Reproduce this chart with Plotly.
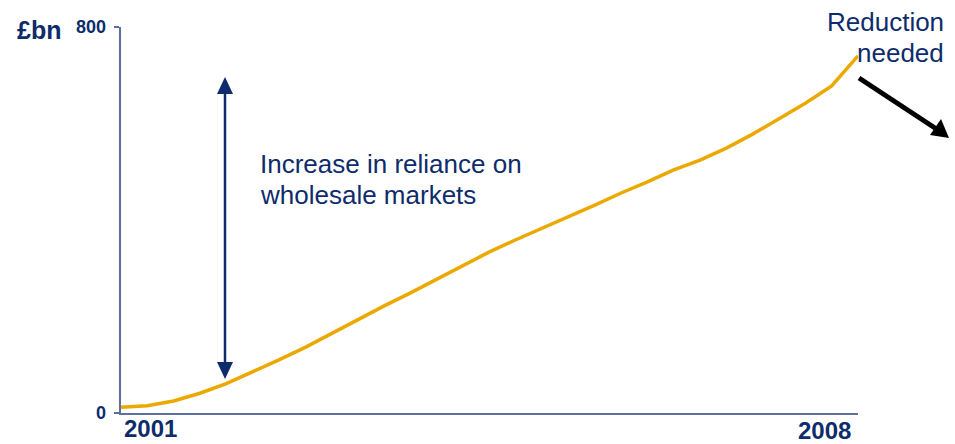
import plotly.graph_objects as go

# Quarterly balance, £bn, 2001 Q1 .. 2008 Q1
years = [2001 + q / 4 for q in range(29)]
funding_gap = [12, 15, 25, 41, 61, 85, 110, 136, 165, 195, 222, 249, 277, 307,
               334, 359, 383, 406, 431, 456, 479, 504, 524, 549, 578, 610, 642,
               678, 740]

y_ticks = [0, 800]
y_tick_labels = ["0", "800"]
start_label, end_label = "2001", "2008"

NAVY = "#0E2C6B"
GOLD = "#EBA900"
AXIS = "#5C70A0"
FAMILY = "Liberation Sans, Arial, sans-serif"

W, H = 955, 444
L, R, T, B = 121, 97, 27, 31
PW, PH = W - L - R, H - T - B


def px(x):
    return (x - L) / PW


def py(y):
    return (H - B - y) / PH


fig = go.Figure()
fig.add_trace(go.Scatter(x=years, y=funding_gap, mode="lines",
                         line=dict(color=GOLD, width=3.5), hoverinfo="skip"))

shapes = []
# double-headed arrow
ax = 225
shapes.append(dict(type="line", xref="paper", yref="paper",
                   x0=px(ax), x1=px(ax), y0=py(90), y1=py(365),
                   line=dict(color=NAVY, width=2.5)))
shapes.append(dict(type="path", xref="paper", yref="paper",
                   path=f"M {px(ax)} {py(77)} L {px(ax-8)} {py(94)} L {px(ax+8)} {py(94)} Z",
                   fillcolor=NAVY, line=dict(width=0)))
shapes.append(dict(type="path", xref="paper", yref="paper",
                   path=f"M {px(ax)} {py(379)} L {px(ax-8)} {py(362)} L {px(ax+8)} {py(362)} Z",
                   fillcolor=NAVY, line=dict(width=0)))
# downward black arrow
shapes.append(dict(type="line", xref="paper", yref="paper",
                   x0=px(859), y0=py(78), x1=px(938), y1=py(130),
                   line=dict(color="black", width=5)))
shapes.append(dict(type="path", xref="paper", yref="paper",
                   path=(f"M {px(949)} {py(138)} L {px(930)} {py(135)} "
                         f"L {px(941)} {py(119)} Z"),
                   fillcolor="black", line=dict(width=0)))

ann = []
txt = dict(family=FAMILY, color=NAVY)
ann.append(dict(text="Increase in reliance on", x=px(258), y=py(164),
                xanchor="left", yanchor="middle", font=dict(size=26, **txt)))
ann.append(dict(text="wholesale markets", x=px(258), y=py(195),
                xanchor="left", yanchor="middle", font=dict(size=26, **txt)))
ann.append(dict(text="Reduction", x=px(946), y=py(22),
                xanchor="right", yanchor="middle", font=dict(size=26, **txt)))
ann.append(dict(text="needed", x=px(946), y=py(53),
                xanchor="right", yanchor="middle", font=dict(size=26, **txt)))
ann.append(dict(text="<b>£bn</b>", x=px(15), y=py(30),
                xanchor="left", yanchor="middle", font=dict(size=25, **txt)))
ann.append(dict(text=f"<b>{start_label}</b>", x=px(122), y=py(429),
                xanchor="left", yanchor="middle", font=dict(size=24, **txt)))
ann.append(dict(text=f"<b>{end_label}</b>", x=px(853), y=py(430),
                xanchor="right", yanchor="middle", font=dict(size=24, **txt)))
for a in ann:
    a.update(xref="paper", yref="paper", showarrow=False)

# value labels for the y ticks, placed on the y scale
for v, lab in zip(y_ticks, y_tick_labels):
    ann.append(dict(text=f"<b>{lab}</b>", xref="paper", yref="y",
                    x=px(108), y=v, xanchor="right", yanchor="middle",
                    showarrow=False, font=dict(size=18, **txt)))

fig.update_layout(
    width=W, height=H,
    margin=dict(l=L, r=R, t=T, b=B),
    paper_bgcolor="white", plot_bgcolor="white",
    showlegend=False,
    shapes=shapes, annotations=ann,
    xaxis=dict(range=[2001, 2008], showgrid=False, zeroline=False,
               showticklabels=False, ticks="", showline=True,
               linecolor=AXIS, linewidth=1.5),
    yaxis=dict(range=[0, 800], showgrid=False, zeroline=False,
               tickvals=y_ticks, showticklabels=False, ticks="outside",
               ticklen=5, tickcolor=AXIS, tickwidth=1.5,
               showline=True, linecolor=AXIS, linewidth=1.5),
)

fig.write_html("out.html")
